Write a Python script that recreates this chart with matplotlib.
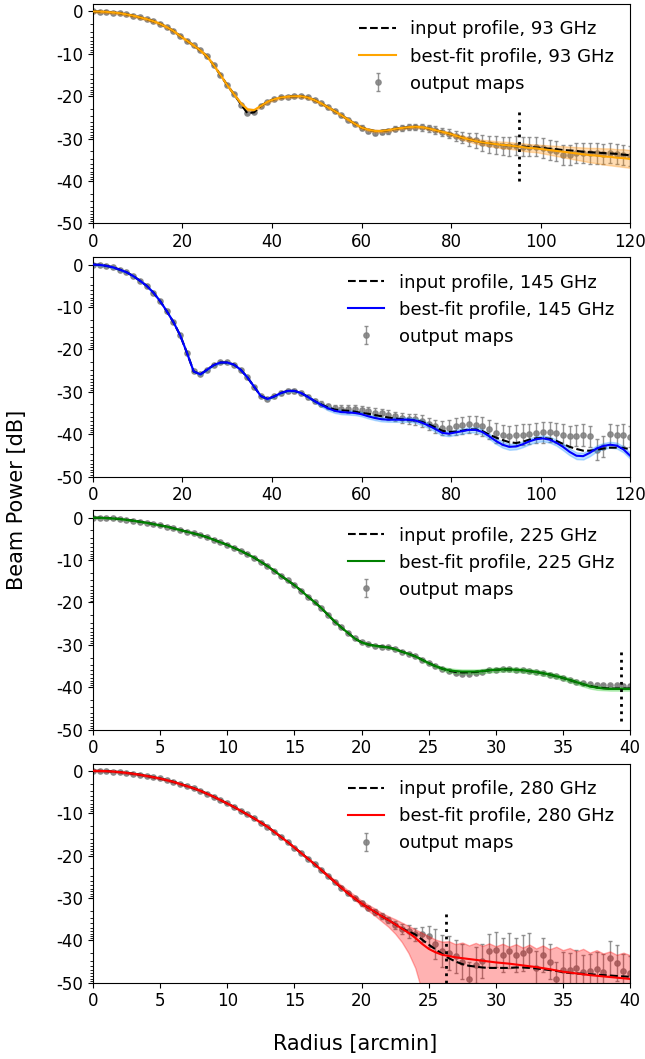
import numpy as np
import matplotlib.pyplot as plt
from matplotlib.ticker import FixedLocator, MultipleLocator

plt.rcParams['axes.unicode_minus'] = False

# radius grids of the binned output maps [arcmin]
r_wide = np.arange(0, 120.1, 1.5)    # 93 and 145 GHz
r_narrow = np.arange(0, 40.01, 0.5)  # 225 and 280 GHz

# ---------------- 93 GHz ----------------
input93 = [0, -0.03, -0.1, -0.25, -0.4, -0.7, -1.0, -1.4, -1.8, -2.3,
           -2.9, -3.7, -4.6, -5.8, -6.9, -8.0, -9.2, -10.6, -12.7, -15.0,
           -17.4, -19.5, -21.8, -24.0, -23.8, -22.3, -21.3, -20.7, -20.3, -20.1,
           -20.0, -20.0, -20.3, -20.9, -21.7, -22.6, -23.5, -24.5, -25.5, -26.5,
           -27.4, -27.9, -28.2, -28.2, -28.0, -27.7, -27.5, -27.3, -27.2, -27.3,
           -27.6, -28.0, -28.4, -28.8, -29.3, -29.8, -30.2, -30.6, -30.9, -31.1,
           -31.3, -31.5, -31.6, -31.8, -31.9, -32.0, -32.1, -32.2, -32.4, -32.5,
           -32.7, -32.8, -32.9, -33.1, -33.2, -33.3, -33.4, -33.5, -33.6, -33.8,
           -33.9]
fit93 = [0, -0.03, -0.1, -0.25, -0.4, -0.7, -1.0, -1.4, -1.8, -2.3,
         -2.9, -3.7, -4.6, -5.8, -6.9, -8.0, -9.2, -10.6, -12.7, -15.0,
         -17.4, -19.5, -21.6, -23.1, -23.3, -22.3, -21.3, -20.7, -20.3, -20.1,
         -20.0, -20.0, -20.3, -20.9, -21.7, -22.6, -23.5, -24.5, -25.5, -26.5,
         -27.4, -27.9, -28.2, -28.2, -28.0, -27.7, -27.5, -27.3, -27.2, -27.3,
         -27.6, -28.0, -28.4, -28.8, -29.3, -29.8, -30.2, -30.6, -30.9, -31.1,
         -31.3, -31.5, -31.6, -31.8, -32.0, -32.2, -32.3, -32.5, -32.7, -32.9,
         -33.1, -33.3, -33.5, -33.7, -33.9, -34.0, -34.2, -34.3, -34.5, -34.6,
         -34.8]
data93 = [0, -0.03, -0.1, -0.25, -0.4, -0.7, -1.0, -1.4, -1.8, -2.3,
          -2.9, -3.7, -4.6, -5.8, -6.9, -8.0, -9.2, -10.6, -12.7, -15.0,
          -17.4, -19.5, -22.0, -23.9, -23.7, -22.3, -21.3, -20.7, -20.3, -20.1,
          -20.0, -20.0, -20.3, -20.9, -21.7, -22.6, -23.5, -24.5, -25.5, -26.5,
          -27.4, -28.2, -28.6, -28.5, -28.3, -27.7, -27.5, -27.3, -27.2, -27.3,
          -27.6, -28.0, -28.4, -28.8, -29.3, -29.8, -30.2, -30.4, -31.0, -31.3,
          -31.6, -31.7, -31.8, -31.7, -31.9, -31.9, -31.9, -32.2, -32.7, -32.9,
          -33.9, -33.9, -33.4, -33.4, -33.5, -33.5, -33.7, -33.4, -33.7, -33.9,
          -34.1]
err93 = [0.2, 0.2, 0.2, 0.2, 0.2, 0.2, 0.2, 0.2, 0.2, 0.2,
         0.2, 0.2, 0.2, 0.2, 0.2, 0.2, 0.2, 0.2, 0.2, 0.2,
         0.2, 0.2, 0.2, 0.2, 0.2, 0.2, 0.2, 0.2, 0.2, 0.2,
         0.2, 0.3, 0.3, 0.3, 0.3, 0.3, 0.3, 0.4, 0.4, 0.4,
         0.5, 0.5, 0.5, 0.5, 0.6, 0.6, 0.6, 0.7, 0.7, 0.8,
         0.8, 0.9, 1.0, 1.1, 1.2, 1.3, 1.5, 1.7, 1.9, 2.0,
         2.1, 2.1, 2.2, 2.2, 2.3, 2.3, 2.3, 2.3, 2.3, 2.3,
         2.4, 2.4, 2.4, 2.4, 2.4, 2.4, 2.4, 2.4, 2.4, 2.4,
         2.4]
band93 = [0.3, 0.3, 0.3, 0.3, 0.3, 0.3, 0.3, 0.3, 0.3, 0.3,
          0.3, 0.3, 0.3, 0.3, 0.3, 0.3, 0.3, 0.3, 0.3, 0.3,
          0.3, 0.3, 0.3, 0.3, 0.3, 0.3, 0.3, 0.3, 0.3, 0.3,
          0.3, 0.3, 0.3, 0.3, 0.3, 0.3, 0.3, 0.3, 0.3, 0.3,
          0.3, 0.3, 0.3, 0.3, 0.3, 0.3, 0.3, 0.3, 0.3, 0.3,
          0.3, 0.3, 0.3, 0.4, 0.4, 0.5, 0.5, 0.6, 0.6, 0.7,
          0.7, 0.8, 0.8, 0.8, 0.9, 0.9, 0.9, 1.0, 1.1, 1.2,
          1.3, 1.4, 1.5, 1.6, 1.7, 1.8, 1.9, 2.0, 2.0, 2.1,
          2.1]

# ---------------- 145 GHz ----------------
input145 = [0, -0.07, -0.3, -0.65, -1.2, -1.8, -2.7, -3.8, -5.0, -6.6,
            -8.6, -11.0, -13.6, -16.7, -20.8, -25.2, -25.9, -24.8, -23.7, -23.1,
            -23.1, -23.6, -24.8, -26.6, -28.8, -31.0, -31.7, -31.1, -30.3, -29.8,
            -29.8, -30.3, -31.2, -32.2, -33.0, -33.7, -34.2, -34.4, -34.5, -34.7,
            -35.0, -35.2, -35.5, -35.8, -36.1, -36.3, -36.5, -36.6, -36.8, -37.1,
            -37.7, -38.4, -39.2, -39.5, -39.4, -39.2, -38.9, -38.9, -39.3, -40.1,
            -40.8, -41.4, -41.9, -42.1, -41.8, -41.3, -41.0, -40.9, -41.1, -41.6,
            -42.3, -43.0, -43.5, -43.9, -43.9, -43.7, -43.4, -43.2, -43.2, -43.3,
            -43.5]
fit145 = [0, -0.07, -0.3, -0.65, -1.2, -1.8, -2.7, -3.8, -5.0, -6.6,
          -8.6, -11.0, -13.6, -16.7, -20.8, -25.2, -25.9, -24.8, -23.7, -23.1,
          -23.1, -23.6, -24.8, -26.6, -28.8, -31.0, -31.7, -31.1, -30.3, -29.8,
          -29.8, -30.3, -31.2, -32.2, -33.1, -33.9, -34.5, -34.8, -34.9, -35.0,
          -35.3, -35.8, -36.2, -36.5, -36.6, -36.6, -36.6, -36.6, -36.8, -37.3,
          -38.0, -38.8, -39.7, -39.9, -39.6, -39.3, -39.0, -39.0, -39.5, -40.5,
          -41.6, -42.5, -43.0, -42.9, -42.4, -41.7, -41.2, -41.0, -41.3, -42.0,
          -43.0, -44.2, -45.1, -45.2, -44.4, -43.4, -42.8, -42.5, -42.7, -43.6,
          -45.1]
data145 = [0, -0.07, -0.3, -0.65, -1.2, -1.8, -2.7, -3.8, -5.0, -6.6,
           -8.6, -11.0, -13.6, -16.7, -20.8, -25.2, -25.9, -24.8, -23.7, -23.1,
           -23.1, -23.6, -24.8, -26.6, -28.8, -31.0, -31.7, -31.1, -30.3, -29.8,
           -29.8, -30.3, -31.2, -32.2, -32.8, -33.4, -33.8, -34.0, -34.0, -34.1,
           -34.3, -34.6, -34.9, -35.1, -35.5, -35.8, -36.2, -36.4, -36.5, -37.0,
           -37.6, -38.2, -38.6, -38.5, -38.2, -37.9, -37.7, -37.8, -38.2, -38.9,
           -39.7, -40.2, -40.4, -40.3, -40.1, -39.9, -39.8, -39.6, -39.5, -39.8,
           -40.1, -40.5, -40.4, -40.2, -40.5, -43.7, -43.0, -40.0, -40.3, -40.2,
           -40.6]
err145 = [0.2, 0.2, 0.2, 0.2, 0.2, 0.2, 0.2, 0.2, 0.2, 0.2,
          0.2, 0.2, 0.2, 0.2, 0.2, 0.2, 0.2, 0.2, 0.2, 0.2,
          0.2, 0.2, 0.2, 0.2, 0.2, 0.2, 0.2, 0.4, 0.4, 0.4,
          0.4, 0.4, 0.4, 0.5, 0.5, 0.6, 0.7, 0.8, 0.9, 0.9,
          0.9, 1.0, 1.0, 1.0, 1.1, 1.1, 1.2, 1.2, 1.3, 1.4,
          1.5, 1.6, 1.7, 1.8, 1.9, 2.0, 2.0, 2.1, 2.2, 2.2,
          2.3, 2.3, 2.4, 2.4, 2.4, 2.4, 2.4, 2.4, 2.4, 2.4,
          2.5, 2.5, 2.5, 2.5, 2.5, 2.5, 2.5, 2.5, 2.5, 2.5,
          2.5]
band145 = [0.2, 0.2, 0.2, 0.2, 0.2, 0.2, 0.2, 0.2, 0.2, 0.2,
           0.2, 0.2, 0.2, 0.2, 0.2, 0.2, 0.2, 0.2, 0.2, 0.2,
           0.2, 0.2, 0.2, 0.2, 0.2, 0.2, 0.2, 0.2, 0.2, 0.2,
           0.2, 0.2, 0.3, 0.3, 0.4, 0.5, 0.5, 0.5, 0.5, 0.5,
           0.5, 0.5, 0.5, 0.5, 0.5, 0.5, 0.5, 0.5, 0.5, 0.6,
           0.6, 0.6, 0.6, 0.6, 0.6, 0.6, 0.6, 0.6, 0.6, 0.6,
           0.7, 0.7, 0.7, 0.7, 0.7, 0.7, 0.7, 0.7, 0.7, 0.7,
           0.8, 0.8, 0.8, 0.8, 0.8, 0.7, 0.7, 0.7, 0.7, 0.7,
           0.7]

# ---------------- 225 GHz ----------------
input225 = [0, -0.02, -0.08, -0.18, -0.3, -0.5, -0.7, -0.95, -1.2, -1.5,
            -1.8, -2.1, -2.5, -2.9, -3.3, -3.7, -4.1, -4.6, -5.2, -5.8,
            -6.4, -7.1, -7.8, -8.6, -9.4, -10.4, -11.4, -12.5, -13.7, -14.8,
            -15.9, -17.2, -18.6, -19.9, -21.3, -22.9, -24.5, -25.9, -27.2, -28.5,
            -29.4, -29.9, -30.2, -30.4, -30.6, -31.0, -31.6, -32.1, -32.7, -33.5,
            -34.3, -35.0, -35.6, -36.1, -36.4, -36.5, -36.5, -36.4, -36.2, -36.0,
            -35.9, -35.8, -35.8, -35.9, -36.0, -36.2, -36.4, -36.7, -37.0, -37.4,
            -37.8, -38.3, -38.8, -39.3, -39.7, -40.0, -40.2, -40.3, -40.3, -40.3,
            -40.3]
fit225 = [0, -0.02, -0.08, -0.18, -0.3, -0.5, -0.7, -0.95, -1.2, -1.5,
          -1.8, -2.1, -2.5, -2.9, -3.3, -3.7, -4.1, -4.6, -5.2, -5.8,
          -6.4, -7.1, -7.8, -8.6, -9.4, -10.4, -11.4, -12.5, -13.7, -14.8,
          -15.9, -17.2, -18.6, -19.9, -21.3, -22.9, -24.5, -25.9, -27.2, -28.5,
          -29.4, -29.9, -30.2, -30.4, -30.6, -31.0, -31.6, -32.1, -32.7, -33.5,
          -34.3, -35.0, -35.6, -36.0, -36.2, -36.3, -36.3, -36.3, -36.2, -36.0,
          -35.9, -35.8, -35.8, -35.9, -36.0, -36.2, -36.4, -36.7, -37.0, -37.4,
          -37.8, -38.3, -38.8, -39.3, -39.8, -40.1, -40.3, -40.4, -40.4, -40.4,
          -40.4]
data225 = [0, -0.02, -0.08, -0.18, -0.3, -0.5, -0.7, -0.95, -1.2, -1.5,
           -1.8, -2.1, -2.5, -2.9, -3.3, -3.7, -4.1, -4.6, -5.2, -5.8,
           -6.4, -7.1, -7.8, -8.6, -9.4, -10.4, -11.4, -12.5, -13.7, -14.8,
           -15.9, -17.2, -18.6, -19.9, -21.3, -22.9, -24.5, -25.9, -27.2, -28.5,
           -29.4, -29.9, -30.2, -30.4, -30.6, -31.0, -31.6, -32.1, -32.7, -33.5,
           -34.3, -35.0, -35.6, -36.1, -36.6, -36.8, -36.8, -36.6, -36.3, -36.0,
           -35.9, -35.8, -35.8, -35.9, -36.0, -36.2, -36.4, -36.7, -37.0, -37.4,
           -37.8, -38.3, -38.7, -39.1, -39.3, -39.4, -39.5, -39.5, -39.5, -39.6,
           -39.6]
err225 = [0.15, 0.15, 0.15, 0.15, 0.15, 0.15, 0.15, 0.15, 0.15, 0.15,
          0.15, 0.15, 0.15, 0.15, 0.15, 0.15, 0.15, 0.15, 0.15, 0.15,
          0.15, 0.15, 0.15, 0.15, 0.15, 0.15, 0.15, 0.15, 0.15, 0.15,
          0.15, 0.15, 0.15, 0.15, 0.15, 0.15, 0.15, 0.15, 0.15, 0.15,
          0.2, 0.2, 0.2, 0.2, 0.2, 0.2, 0.2, 0.2, 0.2, 0.2,
          0.2, 0.2, 0.2, 0.2, 0.2, 0.2, 0.2, 0.2, 0.2, 0.2,
          0.3, 0.3, 0.3, 0.3, 0.3, 0.3, 0.3, 0.3, 0.3, 0.3,
          0.3, 0.3, 0.3, 0.3, 0.3, 0.3, 0.3, 0.3, 0.3, 0.3,
          0.3]
band225 = [0.15, 0.15, 0.15, 0.15, 0.15, 0.15, 0.15, 0.15, 0.15, 0.15,
           0.15, 0.15, 0.15, 0.15, 0.15, 0.15, 0.15, 0.15, 0.15, 0.15,
           0.15, 0.15, 0.15, 0.15, 0.15, 0.15, 0.15, 0.15, 0.15, 0.15,
           0.15, 0.15, 0.15, 0.15, 0.15, 0.15, 0.15, 0.15, 0.15, 0.15,
           0.2, 0.2, 0.2, 0.2, 0.2, 0.2, 0.2, 0.2, 0.2, 0.3,
           0.3, 0.3, 0.4, 0.5, 0.5, 0.5, 0.5, 0.5, 0.5, 0.5,
           0.5, 0.5, 0.5, 0.5, 0.5, 0.5, 0.5, 0.5, 0.5, 0.5,
           0.5, 0.5, 0.5, 0.5, 0.5, 0.5, 0.4, 0.4, 0.4, 0.4,
           0.4]

# ---------------- 280 GHz ----------------
input280 = [0, -0.02, -0.07, -0.17, -0.3, -0.47, -0.68, -0.92, -1.2, -1.5,
            -1.8, -2.2, -2.6, -3.1, -3.6, -4.1, -4.7, -5.4, -6.1, -6.9,
            -7.7, -8.5, -9.4, -10.3, -11.2, -12.2, -13.2, -14.4, -15.6, -16.8,
            -18.1, -19.4, -20.7, -22.0, -23.4, -24.8, -26.2, -27.6, -28.9, -30.1,
            -31.3, -32.3, -33.3, -34.3, -35.2, -36.2, -37.2, -37.9, -38.6, -39.8,
            -41.0, -42.1, -43.2, -44.2, -45.0, -45.6, -46.0, -46.2, -46.4, -46.5,
            -46.5, -46.5, -46.5, -46.4, -46.4, -46.5, -46.6, -46.8, -47.0, -47.2,
            -47.5, -47.7, -47.8, -47.9, -48.0, -48.1, -48.2, -48.3, -48.4, -48.5,
            -48.6]
fit280 = [0, -0.02, -0.07, -0.17, -0.3, -0.47, -0.68, -0.92, -1.2, -1.5,
          -1.8, -2.2, -2.6, -3.1, -3.6, -4.1, -4.7, -5.4, -6.1, -6.9,
          -7.7, -8.5, -9.4, -10.3, -11.2, -12.2, -13.2, -14.4, -15.6, -16.8,
          -18.1, -19.4, -20.7, -22.0, -23.4, -24.8, -26.2, -27.6, -28.9, -30.1,
          -31.3, -32.3, -33.3, -34.3, -35.2, -36.2, -37.2, -38.2, -39.4, -40.8,
          -42.0, -42.8, -43.4, -43.7, -44.0, -44.2, -44.4, -44.6, -44.8, -45.0,
          -45.2, -45.35, -45.5, -45.7, -45.9, -46.1, -46.3, -46.55, -46.8, -47.1,
          -47.4, -47.6, -47.8, -48.0, -48.2, -48.35, -48.5, -48.65, -48.8, -48.95,
          -49.1]
data280 = [0, -0.02, -0.07, -0.17, -0.3, -0.47, -0.68, -0.92, -1.2, -1.5,
           -1.8, -2.2, -2.6, -3.1, -3.6, -4.1, -4.7, -5.4, -6.1, -6.9,
           -7.7, -8.5, -9.4, -10.3, -11.2, -12.2, -13.2, -14.4, -15.6, -16.8,
           -18.1, -19.4, -20.7, -22.0, -23.4, -24.8, -26.2, -27.6, -28.9, -30.1,
           -31.3, -32.3, -33.3, -34.3, -35.2, -36.4, -37.4, -37.9, -38.6, -38.6,
           -39.0, -40.9, -42.6, -43.0, -43.8, -45.0, -49.1, -45.8, -44.8, -42.4,
           -42.2, -43.4, -42.4, -43.4, -43.0, -42.2, -46.6, -43.4, -45.0, -49.1,
           -47.0, -47.0, -46.5, -47.5, -47.3, -46.7, -47.5, -44.1, -45.3, -47.2,
           -47.8]
err280 = [0.2, 0.2, 0.2, 0.2, 0.2, 0.2, 0.2, 0.2, 0.2, 0.2,
          0.2, 0.2, 0.2, 0.2, 0.2, 0.2, 0.2, 0.2, 0.2, 0.2,
          0.2, 0.2, 0.2, 0.2, 0.2, 0.2, 0.2, 0.2, 0.2, 0.2,
          0.2, 0.2, 0.2, 0.2, 0.3, 0.3, 0.3, 0.4, 0.4, 0.4,
          0.5, 0.5, 0.6, 0.7, 0.8, 1.0, 1.2, 1.5, 1.5, 1.8,
          2.5, 3.5, 3.8, 4.0, 4.0, 4.2, 4.0, 4.2, 4.0, 4.0,
          4.2, 4.0, 4.2, 4.0, 4.2, 4.0, 4.2, 4.0, 4.2, 4.0,
          4.2, 4.0, 4.2, 4.0, 4.2, 4.0, 4.2, 4.0, 4.2, 4.0,
          4.2]
band280_hi = [0.2, 0.2, 0.1, 0.0, -0.1, -0.3, -0.5, -0.7, -1.0, -1.3,
              -1.6, -2.0, -2.4, -2.9, -3.4, -3.9, -4.5, -5.2, -5.9, -6.7,
              -7.5, -8.3, -9.2, -10.1, -11.0, -12.0, -13.0, -14.2, -15.4, -16.6,
              -17.9, -19.2, -20.5, -21.8, -23.1, -24.4, -25.7, -27.0, -28.2, -29.4,
              -30.6, -31.6, -32.5, -33.5, -34.3, -35.0, -35.8, -36.6, -37.4, -38.2,
              -39.0, -39.8, -40.3, -40.2, -40.9, -40.5, -41.2, -40.6, -41.3, -40.7,
              -41.4, -40.8, -41.5, -40.9, -41.7, -41.0, -41.9, -41.2, -42.1, -41.5,
              -42.3, -41.8, -42.6, -42.0, -42.9, -42.3, -43.1, -42.6, -43.4, -42.9,
              -43.5]
band280_lo = [-0.2, -0.2, -0.2, -0.3, -0.5, -0.7, -0.9, -1.1, -1.4, -1.7,
              -2.0, -2.4, -2.8, -3.3, -3.8, -4.3, -4.9, -5.6, -6.3, -7.1,
              -7.9, -8.7, -9.6, -10.5, -11.4, -12.4, -13.4, -14.6, -15.8, -17.0,
              -18.3, -19.6, -20.9, -22.2, -23.6, -25.0, -26.4, -27.8, -29.2, -30.5,
              -31.8, -33.0, -34.2, -35.5, -36.8, -38.4, -40.4, -43.0, -46.5, -52.0,
              -55.0, -55.0, -55.0, -55.0, -55.0, -55.0, -55.0, -55.0, -55.0, -55.0,
              -55.0, -55.0, -55.0, -55.0, -55.0, -55.0, -55.0, -55.0, -55.0, -55.0,
              -55.0, -55.0, -55.0, -55.0, -55.0, -55.0, -55.0, -55.0, -55.0, -55.0,
              -55.0]

freqs = ['93', '145', '225', '280']
line_colors = ['orange', 'blue', 'green', 'red']
band_colors = ['darkorange', 'dodgerblue', 'limegreen', 'red']
# dotted markers: (radius, bottom, top) in dB
cut93 = (95.2, -40.0, -23.0)
cut225 = (39.3, -48.0, -31.2)
cut280 = (26.3, -50.0, -33.0)

panels = [
    (r_wide, input93, fit93, data93, err93,
     np.array(fit93) - band93, np.array(fit93) + band93, cut93, 120, 20),
    (r_wide, input145, fit145, data145, err145,
     np.array(fit145) - band145, np.array(fit145) + band145, None, 120, 20),
    (r_narrow, input225, fit225, data225, err225,
     np.array(fit225) - band225, np.array(fit225) + band225, cut225, 40, 5),
    (r_narrow, input280, fit280, data280, err280,
     band280_lo, band280_hi, cut280, 40, 5),
]

fig, axes = plt.subplots(4, 1, figsize=(6.45, 10.59), dpi=100)
fig.subplots_adjust(left=0.144, right=0.977, top=0.996, bottom=0.072, hspace=0.155)

minor_y = [m - 10 * np.log10(k) for m in (0, -10, -20, -30, -40) for k in range(2, 10)]

for i, ax in enumerate(axes):
    r, inp, fit, dat, err, lo, hi, cut, xmax, xstep = panels[i]
    eb = ax.errorbar(r, dat, yerr=err, fmt='o', color='gray', ms=3.8,
                     elinewidth=1, capsize=1.5, ecolor='gray', alpha=0.85, zorder=1)
    ax.fill_between(r, lo, hi, color=band_colors[i], alpha=0.3, lw=1, zorder=2)
    l1, = ax.plot(r, inp, 'k--', lw=1.5, zorder=3)
    l2, = ax.plot(r, fit, color=line_colors[i], lw=1.5, zorder=4)
    if cut is not None:
        ax.vlines(cut[0], cut[1], cut[2], colors='k', linestyles=':', lw=2, zorder=5)
    ax.set_xlim(0, xmax)
    ax.set_ylim(-50, 1.7)
    ax.xaxis.set_major_locator(MultipleLocator(xstep))
    ax.set_yticks([0, -10, -20, -30, -40, -50])
    ax.yaxis.set_minor_locator(FixedLocator(minor_y))
    ax.tick_params(labelsize=12)
    ax.legend([l1, l2, eb],
              ['input profile, %s GHz' % freqs[i],
               'best-fit profile, %s GHz' % freqs[i],
               'output maps'],
              loc='upper right', frameon=False, fontsize=13)

fig.text(0.027, 0.528, 'Beam Power [dB]', rotation=90, ha='center', va='center', fontsize=15)
fig.text(0.55, 0.014, 'Radius [arcmin]', ha='center', va='center', fontsize=15)

plt.savefig('out.png', dpi=100)
